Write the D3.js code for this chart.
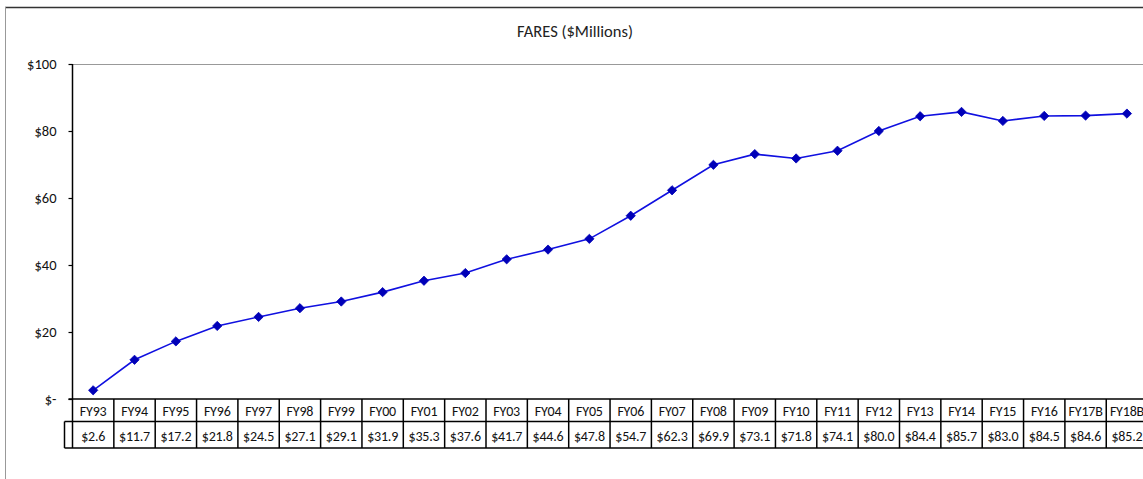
<!DOCTYPE html>
<html>
<head>
<meta charset="utf-8">
<script src="https://cdn.jsdelivr.net/npm/d3@7"></script>
<style>
  body { margin: 0; background: #fff; }
  svg { display: block; font-family: Carlito, Calibri, Lato, "Liberation Sans", sans-serif; }
</style>
</head>
<body>
<div id="chart"></div>
<script>
const categories = ["FY93", "FY94", "FY95", "FY96", "FY97", "FY98", "FY99", "FY00", "FY01",
  "FY02", "FY03", "FY04", "FY05", "FY06", "FY07", "FY08", "FY09", "FY10", "FY11", "FY12",
  "FY13", "FY14", "FY15", "FY16", "FY17B", "FY18B"];
const fares = [2.6, 11.7, 17.2, 21.8, 24.5, 27.1, 29.1, 31.9, 35.3, 37.6, 41.7, 44.6, 47.8,
  54.7, 62.3, 69.9, 73.1, 71.8, 74.1, 80.0, 84.4, 85.7, 83.0, 84.5, 84.6, 85.2];
const yTicks = [0, 20, 40, 60, 80, 100];

const width = 1143,
  height = 479;
const plotLeft = 72.5,
  plotTop = 64,
  plotBottom = 399,
  colW = 41.35;
const row1 = 421.5,
  row2 = 448;

const svg = d3
  .select("#chart")
  .append("svg")
  .attr("width", width)
  .attr("height", height);

// chart frame
svg.append("line").attr("x1", 5).attr("x2", width).attr("y1", 7.5).attr("y2", 7.5)
  .attr("stroke", "#333").attr("stroke-width", 1.5);
svg.append("line").attr("x1", 5.5).attr("x2", 5.5).attr("y1", 7).attr("y2", height)
  .attr("stroke", "#999").attr("stroke-width", 1);

svg.append("text")
  .attr("x", 575).attr("y", 37)
  .attr("text-anchor", "middle")
  .attr("font-size", 16.5)
  .attr("fill", "#222")
  .text("FARES ($Millions)");

const x = d3
  .scaleBand()
  .domain(categories)
  .range([plotLeft, plotLeft + categories.length * colW]);
const y = d3.scaleLinear().domain([0, 100]).range([plotBottom, plotTop]);

// top gridline
svg.append("line")
  .attr("x1", plotLeft).attr("x2", width)
  .attr("y1", y(100) + 0.5).attr("y2", y(100) + 0.5)
  .attr("stroke", "#999");

// y axis
const yAxis = d3
  .axisLeft(y)
  .tickValues(yTicks)
  .tickSize(4)
  .tickPadding(12)
  .tickFormat((d) => (d === 0 ? "$-" : "$" + d));
const ya = svg.append("g").attr("transform", `translate(${plotLeft},0)`).call(yAxis);
ya.select(".domain").remove();
ya.selectAll(".tick line").attr("stroke", "#000").attr("stroke-width", 1.2);
ya.selectAll(".tick text")
  .attr("font-size", 14.5)
  .attr("font-family", "Carlito, Calibri, Lato, sans-serif")
  .attr("fill", "#111");

// data table
const t = svg.append("g").attr("stroke", "#000").attr("stroke-width", 1.5);
t.append("line").attr("x1", plotLeft - 4).attr("x2", width).attr("y1", plotBottom).attr("y2", plotBottom);
t.append("line").attr("x1", plotLeft - 8).attr("x2", width).attr("y1", row1).attr("y2", row1);
t.append("line").attr("x1", plotLeft - 8).attr("x2", width).attr("y1", row2).attr("y2", row2);
t.append("line").attr("x1", plotLeft - 8).attr("x2", plotLeft - 8).attr("y1", row1).attr("y2", row2);
t.append("line").attr("x1", plotLeft).attr("x2", plotLeft).attr("y1", y(100)).attr("y2", row2);
t.selectAll(".sep")
  .data(categories)
  .enter()
  .append("line")
  .attr("class", "sep")
  .attr("x1", (d) => x(d) + colW)
  .attr("x2", (d) => x(d) + colW)
  .attr("y1", plotBottom)
  .attr("y2", row2);

svg.selectAll(".cat")
  .data(categories)
  .enter()
  .append("text")
  .attr("class", "cat")
  .attr("x", (d) => x(d) + colW / 2)
  .attr("y", 416)
  .attr("text-anchor", "middle")
  .attr("font-size", 14)
  .attr("letter-spacing", -0.2)
  .attr("fill", "#111")
  .text((d) => d);

svg.selectAll(".val")
  .data(fares)
  .enter()
  .append("text")
  .attr("class", "val")
  .attr("x", (d, i) => x(categories[i]) + colW / 2)
  .attr("y", 441)
  .attr("text-anchor", "middle")
  .attr("font-size", 14)
  .attr("letter-spacing", -0.2)
  .attr("fill", "#111")
  .text((d) => "$" + d.toFixed(1));

// line + markers
const line = d3
  .line()
  .x((d, i) => x(categories[i]) + colW / 2)
  .y((d) => y(d));
svg.append("path")
  .datum(fares)
  .attr("d", line)
  .attr("fill", "none")
  .attr("stroke", "#1010e0")
  .attr("stroke-width", 1.6);

svg.selectAll(".pt")
  .data(fares)
  .enter()
  .append("path")
  .attr("class", "pt")
  .attr("d", d3.symbol(d3.symbolDiamond2, 55))
  .attr("transform", (d, i) => `translate(${x(categories[i]) + colW / 2},${y(d)})`)
  .attr("fill", "#0000b8")
  .attr("stroke", "#0000b8")
  .attr("stroke-width", 0.8);
</script>
</body>
</html>
